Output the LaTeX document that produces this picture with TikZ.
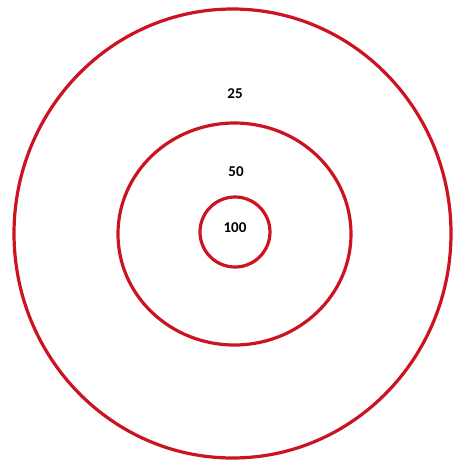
\documentclass[tikz,border=0pt]{standalone}
\usepackage{fontspec}
\setmainfont{Carlito}
\usepackage{tikz}
\definecolor{ring}{HTML}{CC1420}

\begin{document}
\begin{tikzpicture}[x=1pt,y=-1pt,
  ringline/.style={draw=ring,line width=3.2pt},
  score/.style={font=\bfseries\fontsize{15}{18}\selectfont,inner sep=0pt}
]
  \useasboundingbox (0,0) rectangle (453,464);
  % rings, outer to inner
  \draw[ringline] (232.5,233.5) ellipse [x radius=218.5pt, y radius=224.5pt];
  \draw[ringline] (234.5,234) ellipse [x radius=116.5pt, y radius=111pt];
  \draw[ringline] (235,232) ellipse [x radius=35pt, y radius=35pt];
  % points
  \node[score] (s25)  at (235,94)  {25};
  \node[score] (s50)  at (236,172) {50};
  \node[score] (s100) at (235,228) {100};
\end{tikzpicture}
\end{document}
